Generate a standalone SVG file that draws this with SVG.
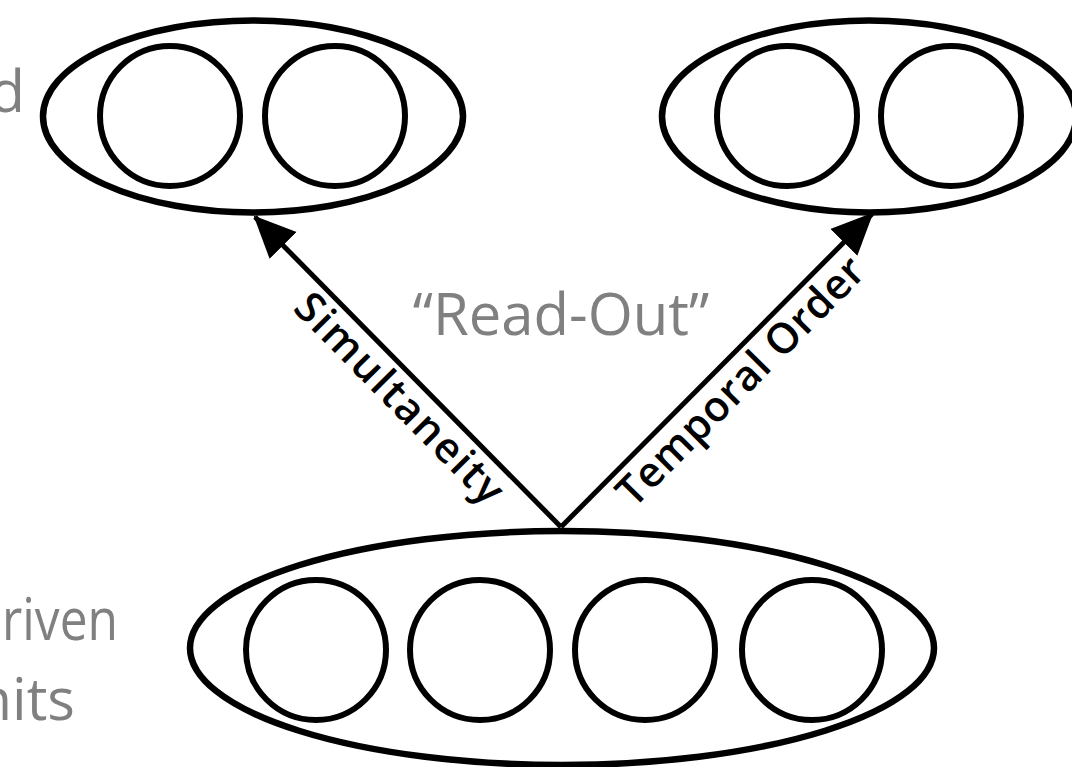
<svg xmlns="http://www.w3.org/2000/svg" width="1072" height="767" viewBox="0 0 1072 767">
<style>
.shape{fill:none;stroke:#000;stroke-width:6.5}
.unit{fill:none;stroke:#000;stroke-width:6}
.conn{stroke:#000;stroke-width:5;fill:none}
.grey{font-family:"Open Sans","Liberation Sans",sans-serif;fill:#808080;font-size:58px}
.lbl{font-family:"Open Sans","Liberation Sans",sans-serif;font-weight:600;fill:#000;font-size:42px;text-anchor:middle}
</style>
<defs>
<marker id="ah" markerUnits="userSpaceOnUse" markerWidth="42" markerHeight="42" viewBox="0 0 42 42" refX="40" refY="21" orient="auto">
<path d="M0,2 L42,21 L0,40 Z" fill="#000"/>
</marker>
</defs>
<rect width="1072" height="767" fill="#fff"/>
<g id="node-top-left">
<ellipse class="shape" cx="253" cy="116.5" rx="210" ry="96"/>
<circle class="unit" cx="170" cy="116" r="70"/>
<circle class="unit" cx="335" cy="116" r="70"/>
</g>
<g id="node-top-right">
<ellipse class="shape" cx="869" cy="116.5" rx="207" ry="96"/>
<circle class="unit" cx="787" cy="116" r="70"/>
<circle class="unit" cx="951" cy="116" r="70"/>
</g>
<g id="node-bottom">
<ellipse class="shape" cx="562" cy="648" rx="372" ry="117"/>
<circle class="unit" cx="316" cy="650" r="70"/>
<circle class="unit" cx="480" cy="650" r="70"/>
<circle class="unit" cx="645" cy="650" r="70"/>
<circle class="unit" cx="812" cy="650" r="70"/>
</g>
<g id="connectors">
<line class="conn" x1="561" y1="527" x2="255" y2="217" marker-end="url(#ah)"/>
<line class="conn" x1="561" y1="527" x2="872" y2="214" marker-end="url(#ah)"/>
<text class="lbl" transform="translate(417,381) rotate(45.4)" x="0" y="39" textLength="278" lengthAdjust="spacing">Simultaneity</text>
<text class="lbl" transform="translate(723,364) rotate(-45.2)" x="0" y="39" textLength="332" lengthAdjust="spacing">Temporal Order</text>
</g>
<g id="labels">
<text class="grey" x="561" y="335" text-anchor="middle">“Read-Out”</text>
<text class="grey" x="25" y="112" text-anchor="end">d</text>
<text class="grey" x="2" y="640" textLength="116" lengthAdjust="spacingAndGlyphs">riven</text>
<text class="grey" x="75" y="720" text-anchor="end">nits</text>
</g>
</svg>
